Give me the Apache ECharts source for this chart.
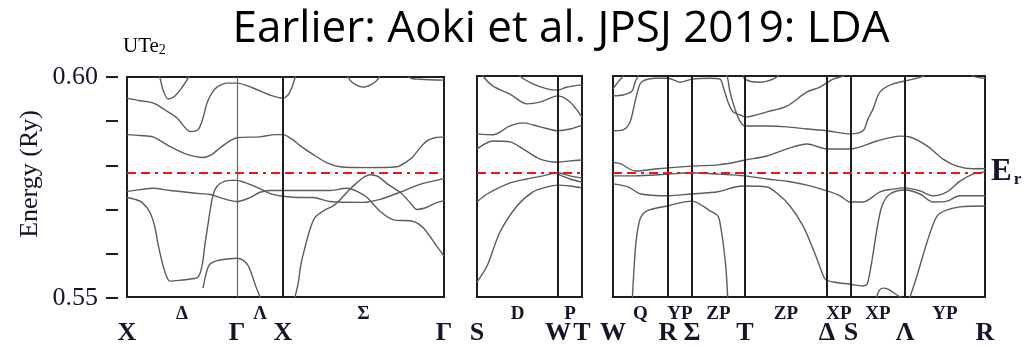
<!DOCTYPE html>
<html><head><meta charset="utf-8">
<script src="https://cdn.jsdelivr.net/npm/echarts@6/dist/echarts.min.js"></script>
<style>html,body{margin:0;padding:0;background:#fff}#c{width:1031px;height:346px}</style>
</head><body><div id="c"></div>
<script>
// ---------- text ----------
const TITLE = 'Earlier: Aoki et al. JPSJ 2019: LDA';
const COMPOUND = 'UTe';
const COMPOUND_SUB = '2';
const Y_NAME = 'Energy (Ry)';
const EF = 0.5782;               // Fermi level (Ry)
const Y_MIN = 0.55, Y_MAX = 0.60, Y_STEP = 0.01;
const Y_LABELED = [0.55, 0.60];

// ---------- k-path (symmetry points, k-distance units) ----------
const p1Sym = [0, 110, 156, 317];
const p1Names = ['X', 'Γ', 'X', 'Γ'];
const p1Seg = ['Δ', 'Λ', 'Σ'];
const p1Thin = [110];            // thin gray divider
const p1Thick = [156];

const p2Sym = [0, 81, 105];
const p2Names = ['S', 'W', 'T'];
const p2Seg = ['D', 'P'];
const p2Thick = [81];

const p3Sym = [0, 55, 79, 132, 214, 238, 292, 372];
const p3Names = ['W', 'R', 'Σ', 'T', 'Δ', 'S', 'Λ', 'R'];
const p3Seg = ['Q', 'YP', 'ZP', 'ZP', 'XP', 'XP', 'YP'];
const p3Thick = [55, 79, 132, 214, 238, 292];

// ---------- bands: [k, E(Ry)] ----------
// panel 1: X - Γ - X - Γ
const p1_b1 = [[31,0.6016],[33,0.5998],[36,0.5971],[41,0.5950],[47,0.5955],[54,0.5973],[61,0.5998],[63,0.6016]];
const p1_b2 = [[0,0.5952],[13,0.5946],[26,0.5941],[38,0.5925],[50,0.5907],[58,0.5885],[63,0.5876],[71,0.5880],[76,0.5907],[80,0.5941],[85,0.5964],[90,0.5977],[100,0.5986],[110,0.5986],[126,0.5975],[143,0.5959],[156,0.5952],[161,0.5959],[165,0.5977],[168,0.5998],[170,0.6016]];
const p1_b3 = [[0,0.5869],[13,0.5867],[26,0.5864],[43,0.5842],[60,0.5824],[76,0.5817],[85,0.5824],[93,0.5839],[110,0.5862],[133,0.5864],[148,0.5869],[156,0.5869],[166,0.5857],[173,0.5844],[186,0.5824],[200,0.5805],[213,0.5796],[240,0.5794],[270,0.5796],[278,0.5805],[286,0.5819],[293,0.5839],[300,0.5855],[308,0.5862],[317,0.5864]];
const p1_b4 = [[0,0.5740],[13,0.5744],[26,0.5747],[43,0.5742],[60,0.5738],[73,0.5735],[83,0.5733],[93,0.5726],[110,0.5717],[123,0.5726],[133,0.5738],[143,0.5742],[156,0.5742],[173,0.5742],[203,0.5742],[220,0.5747],[230,0.5740],[240,0.5726],[253,0.5695],[266,0.5676],[286,0.5672],[296,0.5658],[310,0.5615],[317,0.5593]];
const p1_b5 = [[0,0.5726],[8,0.5722],[15,0.5715],[23,0.5692],[28,0.5658],[31,0.5620],[35,0.5581],[39,0.5550],[43,0.5536],[53,0.5538],[63,0.5541],[71,0.5545],[75,0.5570],[78,0.5620],[81,0.5665],[85,0.5722],[88,0.5744],[93,0.5758],[103,0.5765],[110,0.5765],[118,0.5760],[126,0.5753],[135,0.5744],[143,0.5735],[156,0.5729],[173,0.5726],[186,0.5726],[203,0.5717],[236,0.5715],[253,0.5722],[273,0.5738],[293,0.5756],[317,0.5769]];
const p1_b6 = [[76,0.5520],[79,0.5552],[82,0.5572],[86,0.5579],[93,0.5584],[110,0.5588],[116,0.5584],[121,0.5572],[125,0.5550],[129,0.5523],[133,0.5500],[135,0.5484]];
const p1_b7 = [[166,0.5484],[168,0.5500],[171,0.5529],[174,0.5575],[178,0.5613],[183,0.5654],[188,0.5681],[196,0.5695],[208,0.5710],[220,0.5738],[228,0.5756],[236,0.5771],[243,0.5778],[251,0.5774],[261,0.5756],[273,0.5738],[283,0.5715],[290,0.5699],[300,0.5704],[308,0.5713],[317,0.5719]];
const p1_b8 = [[218,0.6016],[223,0.5993],[229,0.5982],[236,0.5977],[245,0.5984],[251,0.5995],[255,0.6016]];
const p1_b9 = [[278,0.6016],[283,0.5998],[293,0.5995],[317,0.5993]];

// panel 2: S - W - T
const p2_b1 = [[4,0.6016],[6,0.6000],[16,0.5977],[33,0.5959],[50,0.5937],[63,0.5941],[81,0.5955],[93,0.5941],[105,0.5907]];
const p2_b2 = [[40,0.6016],[43,0.6000],[56,0.5982],[70,0.5971],[81,0.5968],[90,0.5975],[105,0.5980]];
const p2_b3 = [[0,0.5869],[16,0.5867],[33,0.5887],[46,0.5894],[63,0.5885],[81,0.5876],[93,0.5880],[105,0.5889]];
const p2_b4 = [[0,0.5835],[16,0.5853],[33,0.5851],[46,0.5835],[63,0.5812],[81,0.5805],[93,0.5808],[105,0.5810]];
const p2_b5 = [[0,0.5715],[10,0.5733],[33,0.5758],[50,0.5767],[66,0.5774],[81,0.5781],[93,0.5774],[105,0.5769]];
const p2_b6 = [[0,0.5534],[10,0.5570],[23,0.5647],[40,0.5706],[56,0.5738],[70,0.5749],[81,0.5753],[93,0.5751],[105,0.5747]];
const p2_b7 = [[81,0.5778],[93,0.5767],[105,0.5760]];

// panel 3: W - R - Σ - T - Δ - S - Λ - R
const p3_b1 = [[0,0.5971],[5,0.5986],[10,0.6000],[12,0.6016]];
const p3_b2 = [[0,0.5955],[10,0.5957],[19,0.5966],[22,0.5986],[25,0.6000],[27,0.6016]];
const p3_b3 = [[0,0.5876],[10,0.5878],[17,0.5896],[22,0.5941],[27,0.5982],[32,0.5991],[42,0.5995],[55,0.5995],[67,0.5986],[79,0.5993],[97,0.5995],[107,0.5993],[110,0.5977],[115,0.5941],[120,0.5919],[127,0.5912],[132,0.5907],[154,0.5919],[174,0.5932],[194,0.5964],[207,0.5975],[220,0.5993],[230,0.6000],[235,0.6016]];
const p3_b4 = [[109,0.6016],[114,0.6000],[117,0.5964],[122,0.5925],[127,0.5898],[132,0.5887],[154,0.5887],[174,0.5885],[194,0.5880],[214,0.5876],[237,0.5869],[250,0.5876],[255,0.5903],[260,0.5925],[267,0.5964],[280,0.5982],[300,0.5993],[310,0.6000],[314,0.6016]];
const p3_b5 = [[129,0.6016],[132,0.5993],[147,0.5986],[164,0.5998],[167,0.6016]];
const p3_b6 = [[355,0.6016],[360,0.6000],[372,0.5995]];
const p3_b7 = [[0,0.5805],[8,0.5801],[22,0.5785],[45,0.5790],[78,0.5796],[105,0.5799],[122,0.5805],[132,0.5810],[154,0.5819],[174,0.5835],[194,0.5846],[214,0.5835],[237,0.5835],[264,0.5853],[287,0.5864],[297,0.5862],[314,0.5842],[330,0.5812],[344,0.5796],[360,0.5790],[372,0.5790]];
const p3_b8 = [[0,0.5774],[22,0.5774],[55,0.5778],[78,0.5781],[105,0.5778],[132,0.5774],[154,0.5767],[174,0.5762],[194,0.5753],[214,0.5740],[227,0.5729],[237,0.5715],[250,0.5715],[257,0.5722],[267,0.5738],[280,0.5744],[292,0.5747],[307,0.5740],[320,0.5729],[334,0.5738],[347,0.5762],[360,0.5778],[372,0.5783]];
const p3_b9 = [[0,0.5756],[15,0.5749],[28,0.5733],[55,0.5729],[78,0.5733],[105,0.5738],[122,0.5749],[132,0.5751],[154,0.5749],[165,0.5733],[177,0.5706],[190,0.5661],[200,0.5609],[207,0.5568],[212,0.5541],[220,0.5534],[237,0.5529],[250,0.5525],[254,0.5529],[257,0.5557],[260,0.5597],[264,0.5654],[269,0.5706],[277,0.5733],[292,0.5742],[307,0.5733],[320,0.5715],[334,0.5717],[347,0.5729],[372,0.5729]];
const p3_b10 = [[19,0.5484],[21,0.5563],[23,0.5624],[27,0.5676],[34,0.5695],[54,0.5706],[79,0.5717],[97,0.5695],[105,0.5683],[108,0.5654],[110,0.5624],[113,0.5563],[115,0.5484]];
const p3_b11 = [[294,0.5484],[297,0.5500],[304,0.5548],[314,0.5624],[324,0.5683],[334,0.5697],[347,0.5704],[372,0.5706]];
const p3_b12 = [[263,0.5495],[266,0.5514],[270,0.5520],[275,0.5518],[281,0.5509],[287,0.5500],[290,0.5495]];

const panels = [
  {sym: p1Sym, names: p1Names, seg: p1Seg, thin: p1Thin, thick: p1Thick,
   bands: [p1_b1,p1_b2,p1_b3,p1_b4,p1_b5,p1_b6,p1_b7,p1_b8,p1_b9]},
  {sym: p2Sym, names: p2Names, seg: p2Seg, thin: [], thick: p2Thick,
   bands: [p2_b1,p2_b2,p2_b3,p2_b4,p2_b5,p2_b6,p2_b7]},
  {sym: p3Sym, names: p3Names, seg: p3Seg, thin: [], thick: p3Thick,
   bands: [p3_b1,p3_b2,p3_b3,p3_b4,p3_b5,p3_b6,p3_b7,p3_b8,p3_b9,p3_b10,p3_b11,p3_b12]}
];

// ---------- layout / style ----------
const gridBoxes = [
  {left: 127, top: 77, width: 317, height: 221},
  {left: 477, top: 76, width: 105, height: 222},
  {left: 613, top: 76, width: 372, height: 222}
];
const axisBox = {left: 118, top: 77, width: 1, height: 221};   // detached energy scale
const SERIF = '"Liberation Serif", "DejaVu Serif", serif';
const TXT = '#15152a';
const BAND_COLOR = '#5c5c5c';

const chart = echarts.init(document.getElementById('c'), null, {renderer: 'canvas'});

const grid = gridBoxes.map(g => Object.assign({show: true, borderColor: '#1e1e1e', borderWidth: 2, backgroundColor: 'transparent'}, g));
grid.push(Object.assign({show: false}, axisBox));

const xAxis = [];
const yAxis = [];
const series = [];

panels.forEach((p, gi) => {
  const kmax = p.sym[p.sym.length - 1];
  const segPos = p.seg.map((_, i) => (p.sym[i] + p.sym[i + 1]) / 2);
  xAxis.push({
    type: 'value', gridIndex: gi, min: 0, max: kmax, position: 'bottom',
    axisLine: {show: false}, axisTick: {show: false}, splitLine: {show: false},
    axisLabel: {
      customValues: p.sym, margin: 23,
      formatter: v => p.names[p.sym.indexOf(v)] || '',
      fontFamily: SERIF, fontWeight: 'bold', fontSize: 26, color: TXT
    }
  });
  xAxis.push({
    type: 'value', gridIndex: gi, min: 0, max: kmax, position: 'bottom',
    axisLine: {show: false}, axisTick: {show: false}, splitLine: {show: false},
    axisLabel: {
      customValues: segPos, margin: 8,
      formatter: v => p.seg[segPos.indexOf(v)] || '',
      fontFamily: SERIF, fontWeight: 'bold', fontSize: 19, color: TXT
    }
  });
  yAxis.push({
    type: 'value', gridIndex: gi, min: Y_MIN, max: Y_MAX, interval: Y_STEP, show: false
  });

  p.bands.forEach(b => {
    series.push({
      type: 'line', xAxisIndex: gi * 2, yAxisIndex: gi, data: b,
      showSymbol: false, symbol: 'none', smooth: 0.3, clip: true, silent: true,
      lineStyle: {color: BAND_COLOR, width: 1.4}, z: 2
    });
  });

  // dividers and Fermi level
  const ml = [];
  p.thin.forEach(k => ml.push({xAxis: k, lineStyle: {color: '#666', width: 1.2, type: 'solid'}}));
  p.thick.forEach(k => ml.push({xAxis: k, lineStyle: {color: '#1e1e1e', width: 2, type: 'solid'}}));
  const efLine = {yAxis: EF, lineStyle: {color: '#ff1010', width: 2.2, type: [9, 5, 9, 5, 3, 5]}};
  if (gi === 2) {
    efLine.label = {
      show: true, position: 'end', distance: 6,
      formatter: '{e|E}{r|r}',
      rich: {
        e: {fontFamily: SERIF, fontWeight: 'bold', fontSize: 31, color: TXT},
        r: {fontFamily: SERIF, fontWeight: 'bold', fontSize: 17, color: TXT, verticalAlign: 'bottom', padding: [14, 0, 0, 2]}
      }
    };
  }
  ml.push(efLine);
  series.push({
    type: 'line', xAxisIndex: gi * 2, yAxisIndex: gi, data: [], silent: true,
    markLine: {silent: true, precision: 5, symbol: ['none', 'none'], label: {show: false}, animation: false, data: ml},
    z: 3
  });
});

// energy scale on its own (invisible) grid, ticks detached from the frame
xAxis.push({type: 'value', gridIndex: 3, min: 0, max: 1, show: false});
yAxis.push({
  type: 'value', gridIndex: 3, min: Y_MIN, max: Y_MAX, interval: Y_STEP, position: 'left',
  axisLine: {show: false},
  axisTick: {show: true, inside: false, length: 12, lineStyle: {color: '#1e1e1e', width: 2}},
  splitLine: {show: false},
  axisLabel: {
    margin: 20, fontFamily: SERIF, fontSize: 26, color: TXT,
    formatter: v => (Y_LABELED.some(t => Math.abs(t - v) < 1e-6) ? v.toFixed(2) : '')
  }
});

chart.setOption({
  animation: false,
  backgroundColor: '#ffffff',
  grid, xAxis, yAxis, series,
  graphic: [
    {type: 'text', x: 561, y: 29, style: {text: TITLE, font: '44px "Open Sans", sans-serif', fill: '#000', textAlign: 'center', textVerticalAlign: 'middle'}},
    {type: 'text', x: 123, y: 46, style: {
      text: '{a|' + COMPOUND + '}{b|' + COMPOUND_SUB + '}', textVerticalAlign: 'middle',
      rich: {a: {fontFamily: SERIF, fontSize: 21, color: TXT}, b: {fontFamily: SERIF, fontSize: 14, color: TXT, padding: [9, 0, 0, 0]}}
    }},
    {type: 'text', x: 30, y: 174, rotation: Math.PI / 2, style: {text: Y_NAME, font: '26px ' + SERIF, fill: TXT, textAlign: 'center', textVerticalAlign: 'middle'}}
  ]
});
</script>
</body></html>
